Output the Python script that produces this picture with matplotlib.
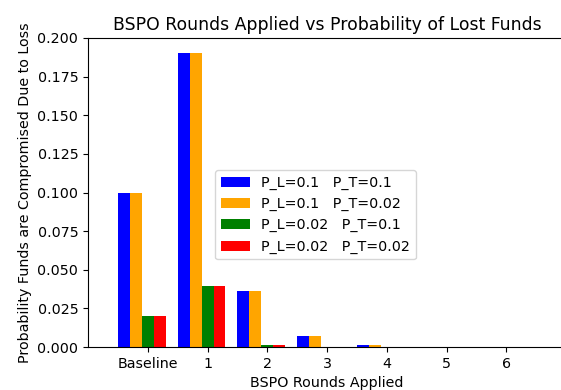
import matplotlib
matplotlib.use("Agg")
import matplotlib.pyplot as plt
import numpy as np

rounds = ["Baseline", "1", "2", "3", "4", "5", "6"]
labels = ["P_L=0.1   P_T=0.1", "P_L=0.1   P_T=0.02",
          "P_L=0.02   P_T=0.1", "P_L=0.02   P_T=0.02"]
colors = ["blue", "orange", "green", "red"]

# probability of lost funds for each series, per round
pl01_pt01 = [0.1, 0.19, 0.0361, 0.0069, 0.0013, 0.00025, 0.00005]
pl01_pt002 = [0.1, 0.19, 0.0361, 0.0069, 0.0013, 0.00025, 0.00005]
pl002_pt01 = [0.02, 0.0396, 0.0016, 0.00006, 0.0, 0.0, 0.0]
pl002_pt002 = [0.02, 0.0396, 0.0016, 0.00006, 0.0, 0.0, 0.0]
series = [pl01_pt01, pl01_pt002, pl002_pt01, pl002_pt002]

plt.rcParams["font.size"] = 10.3

fig = plt.figure(figsize=(5.61, 3.9), dpi=100)
ax = fig.add_axes([0.157, 0.110, 0.852, 0.7926])

x = np.arange(len(rounds))
width = 0.2
offsets = [-0.4, -0.2, 0.0, 0.2]
for vals, off, col, lab in zip(series, offsets, colors, labels):
    ax.bar(x + off, vals, width, color=col, label=lab)

ax.set_xticks(x)
ax.set_xticklabels(rounds)
ax.set_xlim(-1, 7)
ax.set_ylim(0, 0.2)
ax.set_xlabel("BSPO Rounds Applied")
ax.set_ylabel("Probability Funds are Compromised Due to Loss")
ax.set_title("BSPO Rounds Applied vs Probability of Lost Funds", fontsize=12.4)
ax.legend(loc="upper left", bbox_to_anchor=(0.266, 0.573), borderaxespad=0)

fig.savefig("out.png", dpi=100)
